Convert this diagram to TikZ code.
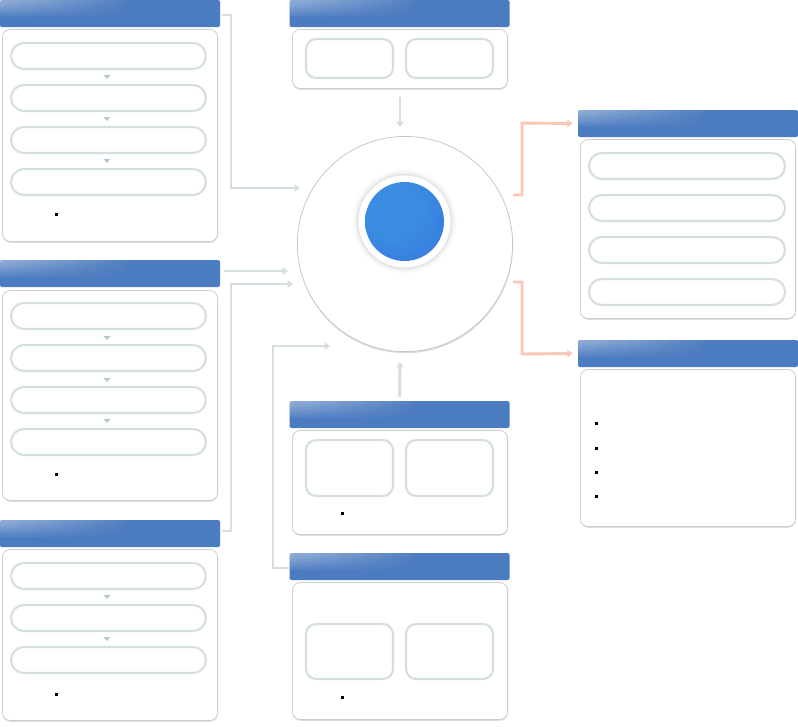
\documentclass[tikz,border=0pt]{standalone}
\usetikzlibrary{arrows.meta,shadows,fadings,calc}

\definecolor{hdrblue}{HTML}{4B7BC0}
\definecolor{boxline}{HTML}{CDCDCD}
\definecolor{pilline}{HTML}{D5DFE1}
\definecolor{connline}{HTML}{D5DFE1}
\definecolor{warmline}{HTML}{FBC8B6}
\definecolor{tipgray}{HTML}{B5C8CE}
\definecolor{discA}{HTML}{3A8CE0}
\definecolor{discM}{HTML}{3679DF}
\definecolor{discB}{HTML}{3466DE}

\pgfdeclareradialshading{discshade}{\pgfpoint{-10bp}{10bp}}%
  {color(0bp)=(discA); color(18bp)=(discA); color(40bp)=(discM); color(60bp)=(discB); color(80bp)=(discB)}

% glossy highlight on the header bars
\tikzfading[name=glossfade, left color=transparent!0, middle color=transparent!55, right color=transparent!100]

\tikzset{
  hdr/.style={fill=hdrblue, rounded corners=1.5pt, minimum width=165pt,
    minimum height=20.25pt, inner sep=0pt,
    path picture={
      \foreach \hh in {0.12,0.22,0.32,0.42,0.52,0.62}
        \fill[white, path fading=glossfade, fill opacity=0.08]
          (path picture bounding box.north west) rectangle
          ($(path picture bounding box.north west)!\hh!(path picture bounding box.south west)
            +(0.6*165pt,0)$);}},
  bodybox/.style={draw=boxline, line width=0.6pt, fill=white, rounded corners=6pt,
    inner sep=0pt, drop shadow={shadow xshift=0.2pt, shadow yshift=-0.9pt,
    opacity=0.12, fill=black}},
  pill/.style={draw=pilline, line width=1.6pt, fill=white, rounded corners=9.5pt,
    minimum width=146.1pt, minimum height=19.4pt, inner sep=0pt},
  sqbox/.style={draw=pilline, line width=1.6pt, fill=white, rounded corners=7.5pt,
    minimum width=65.2pt, inner sep=0pt},
  hub/.style={circle, draw=black!22, line width=0.6pt, fill=white, inner sep=0pt,
    minimum size=161.4pt, drop shadow={shadow xshift=0.3pt, shadow yshift=-1.2pt,
    opacity=0.14, fill=black}},
  gconn/.style={draw=connline, line width=2.2pt,
    -{Triangle[length=4pt,width=5.5pt]}},
  wconn/.style={draw=warmline, line width=2.2pt,
    -{Triangle[length=4pt,width=5.5pt]}},
  downtick/.pic={\fill[tipgray] (-3.5,-2) -- (3.5,-2) -- (0,2) -- cycle;},
  sqdot/.pic={\fill[black] (-1.5,-1.5) rectangle (1.5,1.5);}
}

\begin{document}
\begin{tikzpicture}[x=0.75pt, y=-0.75pt]
\useasboundingbox (0,0) rectangle (798,726);
\fill[white] (0,0) rectangle (798,726);

% ---------- left column, first group ----------
\node[bodybox, minimum width=161.4pt, minimum height=159.2pt] (b1) at (110,135.5) {};
\node[hdr] (h1) at (110,13.5) {};
\node[pill] (p1a) at (108.5,56) {};
\node[pill] (p1b) at (108.5,98) {};
\node[pill] (p1c) at (108.5,140) {};
\node[pill] (p1d) at (108.5,182) {};
\pic at (107,77) {downtick};
\pic at (107,119) {downtick};
\pic at (107,161) {downtick};
\pic at (56,214) {sqdot};

% ---------- left column, second group ----------
\node[bodybox, minimum width=161.4pt, minimum height=157.6pt] (b2) at (110,395.5) {};
\node[hdr] (h2) at (110,273.5) {};
\node[pill] (p2a) at (108.5,316) {};
\node[pill] (p2b) at (108.5,358) {};
\node[pill] (p2c) at (108.5,400) {};
\node[pill] (p2d) at (108.5,442) {};
\pic at (107,338) {downtick};
\pic at (107,380) {downtick};
\pic at (107,421) {downtick};
\pic at (56,474) {sqdot};

% ---------- left column, third group ----------
\node[bodybox, minimum width=161.4pt, minimum height=128.4pt] (b3) at (110,635) {};
\node[hdr] (h3) at (110,533.5) {};
\node[pill] (p3a) at (108.5,576) {};
\node[pill] (p3b) at (108.5,618) {};
\node[pill] (p3c) at (108.5,660) {};
\pic at (107,597) {downtick};
\pic at (107,639) {downtick};
\pic at (56,694) {sqdot};

% ---------- top centre group ----------
\node[bodybox, minimum width=161.4pt, minimum height=44.4pt] (b4) at (400,59) {};
\node[hdr] (h4) at (399.5,13.5) {};
\node[sqbox, minimum height=29.2pt] (q4a) at (349.5,58.5) {};
\node[sqbox, minimum height=29.2pt] (q4b) at (449.5,58.5) {};

% ---------- central hub ----------
\node[hub] (hub) at (405,244) {};
\foreach \rr/\oo in {39pt/0.015,37.8pt/0.02,36.6pt/0.03,35.6pt/0.035}
  \fill[black, opacity=\oo] (404.5,221.5) circle (\rr);
\node[circle, fill=white, minimum size=69pt, inner sep=0pt] (ring) at (404.5,221.5) {};
\node[circle, shade, shading=discshade, minimum size=59.25pt, inner sep=0pt] (core) at (404.5,221.5) {};

% ---------- right column, upper group ----------
\node[bodybox, minimum width=161.4pt, minimum height=134.4pt] (b5) at (688,229) {};
\node[hdr] (h5) at (688,123.5) {};
\node[pill, minimum width=146.9pt] (p5a) at (687,166) {};
\node[pill, minimum width=146.9pt] (p5b) at (687,208) {};
\node[pill, minimum width=146.9pt] (p5c) at (687,250) {};
\node[pill, minimum width=146.9pt] (p5d) at (687,292) {};

% ---------- right column, lower group ----------
\node[bodybox, minimum width=161.4pt, minimum height=117.9pt] (b6) at (688,448) {};
\node[hdr] (h6) at (688,353.5) {};
\pic at (596,423) {sqdot};
\pic at (596,448) {sqdot};
\pic at (596,472) {sqdot};
\pic at (596,496) {sqdot};

% ---------- bottom centre, upper group ----------
\node[bodybox, minimum width=161.4pt, minimum height=78.2pt] (b7) at (400,482.5) {};
\node[hdr] (h7) at (399.5,414.5) {};
\node[sqbox, minimum height=41.9pt] (q7a) at (349.5,468) {};
\node[sqbox, minimum height=41.9pt] (q7b) at (449.5,468) {};
\pic at (342,513) {sqdot};

% ---------- bottom centre, lower group ----------
\node[bodybox, minimum width=161.4pt, minimum height=102.9pt] (b8) at (400,651) {};
\node[hdr] (h8) at (399.5,566.5) {};
\node[sqbox, minimum height=41.2pt] (q8a) at (349.5,651.5) {};
\node[sqbox, minimum height=41.2pt] (q8b) at (449.5,651.5) {};
\pic at (342,697) {sqdot};

% ---------- arrow ends near the hub ----------
\coordinate (in1) at (300,188);
\coordinate (in2) at (288,271);
\coordinate (in3) at (293,284);
\coordinate (in4) at (330,346);
\coordinate (in5) at (400,127);
\coordinate (in6) at (400,362);
\coordinate (out1) at (513,195);
\coordinate (out2) at (513,282);

% ---------- connectors into the hub ----------
\draw[gconn] ([shift={(2,1.5)}]h1.east) -| (231,188) -- (in1);
\draw[gconn] ([shift={(4,-2.5)}]h2.east) -- (in2);
\draw[gconn] ([shift={(2,-2.5)}]h3.east) -| (231,284) -- (in3);
\draw[gconn] ([shift={(0.5,1.5)}]h8.west) -| (273,346) -- (in4);
\draw[gconn] ([yshift=-6pt]b4.south) -- (in5);
\draw[gconn] ([yshift=3pt]h7.north) -- (in6);

% ---------- connectors out of the hub ----------
\draw[wconn] (out1) -| (522,123) -- ([xshift=-3.75pt]h5.west);
\draw[wconn] (out2) -| (522,354) -- ([xshift=-3.75pt]h6.west);
\end{tikzpicture}
\end{document}
